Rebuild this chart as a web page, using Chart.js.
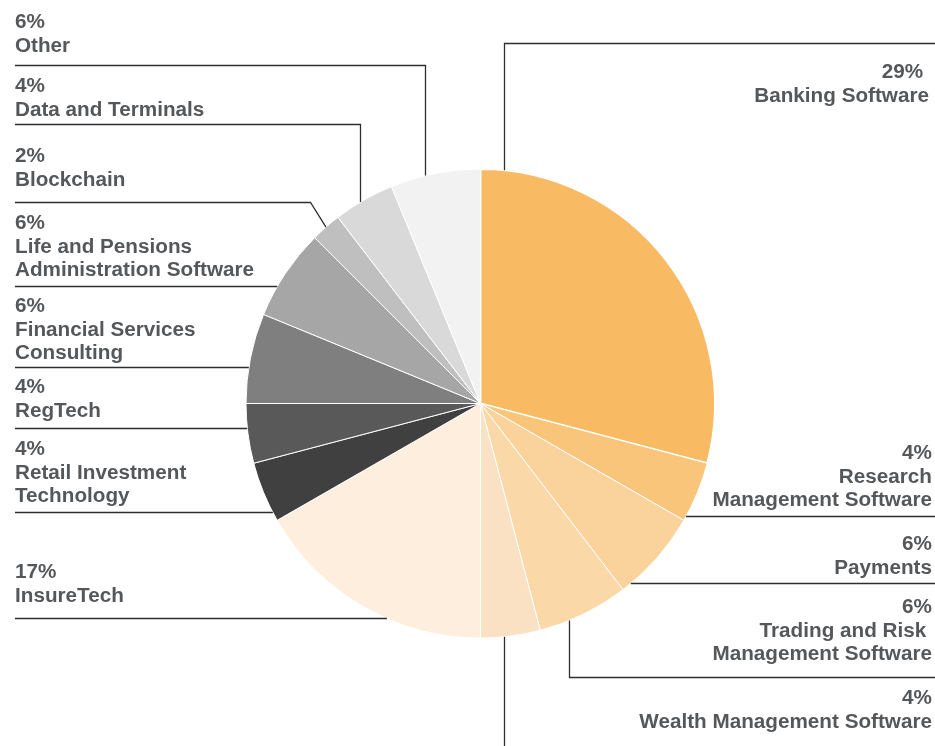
<!DOCTYPE html>
<html>
<head>
<meta charset="utf-8">
<script src="https://cdn.jsdelivr.net/npm/chart.js@4.4.1/dist/chart.umd.min.js"></script>
<style>
  html, body { margin: 0; padding: 0; background: #ffffff; }
  canvas { display: block; }
</style>
</head>
<body>
<canvas id="c" width="935" height="746"></canvas>
<script>
// ---- data ----
const categories = [
  'Banking Software', 'Research Management Software', 'Payments',
  'Trading and Risk Management Software', 'Wealth Management Software',
  'InsureTech', 'Retail Investment Technology', 'RegTech',
  'Financial Services Consulting', 'Life and Pensions Administration Software',
  'Blockchain', 'Data and Terminals', 'Other'
];
const shares = [29.1, 4.2, 6.3, 6.3, 4.1, 16.7, 4.2, 4.1, 6.2, 6.3, 2.1, 4.2, 6.2];
const percentLabels = ['29% ', '4%', '6%', '6%', '4%', '17%', '4%', '4%', '6%', '6%', '2%', '4%', '6%'];
const labelLines = [
  ['Banking Software'],
  ['Research', 'Management Software'],
  ['Payments'],
  ['Trading and Risk ', 'Management Software'],
  ['Wealth Management Software'],
  ['InsureTech'],
  ['Retail Investment', 'Technology'],
  ['RegTech'],
  ['Financial Services', 'Consulting'],
  ['Life and Pensions', 'Administration Software'],
  ['Blockchain'],
  ['Data and Terminals'],
  ['Other']
];
const sliceColors = [
  '#F8BA63', '#F9C57B', '#FAD29C', '#FAD8A8', '#FBE1C3', '#FDEEDD',
  '#404040', '#595959', '#7F7F7F', '#A6A6A6', '#BFBFBF', '#D9D9D9', '#F2F2F2'
];
const sliceBorders = [2, 1, 1, 1, 1, 1, 1, 1, 1, 1, 1, 1, 1];

// ---- label layout (text baselines / leader geometry) ----
const labelLayout = [
  { side: 'r', tx: 929, y0: 78,  lineY: 43,  leader: 'vdown', lx: 504 },
  { side: 'r', tx: 932, y0: 459, lineY: 516, leader: 'h' },
  { side: 'r', tx: 932, y0: 550, lineY: 583, leader: 'h' },
  { side: 'r', tx: 932, y0: 613, lineY: 677, leader: 'vup', lx: 569 },
  { side: 'r', tx: 932, y0: 704, lineY: null, leader: 'vfree', lx: 504 },
  { side: 'l', tx: 15, y0: 578, lineY: 618, leader: 'h' },
  { side: 'l', tx: 15, y0: 455, lineY: 512, leader: 'h' },
  { side: 'l', tx: 15, y0: 393, lineY: 428, leader: 'h' },
  { side: 'l', tx: 15, y0: 312, lineY: 367, leader: 'h' },
  { side: 'l', tx: 15, y0: 229, lineY: 286, leader: 'h' },
  { side: 'l', tx: 15, y0: 162, lineY: 202, leader: 'diag', lx: 310 },
  { side: 'l', tx: 15, y0: 92,  lineY: 124, leader: 'v', lx: 360 },
  { side: 'l', tx: 15, y0: 28,  lineY: 65,  leader: 'v', lx: 425 }
];

const W = 935, LINE_H = 23.7;
const FONT = 'bold 20.7px "Liberation Sans", Arial, sans-serif';
const TEXT_COLOR = '#55585B';
const LEADER_COLOR = '#2E2E2E';

const labelPlugin = {
  id: 'labels',
  afterDraw(chart) {
    const ctx = chart.ctx;
    const meta = chart.getDatasetMeta(0);
    ctx.save();
    ctx.font = FONT;
    ctx.textBaseline = 'alphabetic';
    ctx.strokeStyle = LEADER_COLOR;
    ctx.lineWidth = 1.3;
    ctx.lineJoin = 'miter';
    meta.data.forEach((arc, i) => {
      const L = labelLayout[i];
      const cx = arc.x, cy = arc.y, r = arc.outerRadius;
      const circY = (x, dir) => cy + dir * Math.sqrt(Math.max(r * r - (x - cx) * (x - cx), 0));
      const circX = (y, dir) => cx + dir * Math.sqrt(Math.max(r * r - (y - cy) * (y - cy), 0));
      // text
      ctx.fillStyle = TEXT_COLOR;
      ctx.textAlign = L.side === 'r' ? 'right' : 'left';
      const lines = [percentLabels[i]].concat(labelLines[i]);
      lines.forEach((t, k) => ctx.fillText(t, L.tx, L.y0 + k * LINE_H));
      // leader (pixel-aligned)
      const ly = L.lineY === null ? null : L.lineY + 0.5;
      const lx = L.lx === undefined ? null : L.lx + 0.5;
      ctx.beginPath();
      if (L.leader === 'h') {
        if (L.side === 'l') { ctx.moveTo(15, ly); ctx.lineTo(circX(ly, -1), ly); }
        else { ctx.moveTo(circX(ly, 1), ly); ctx.lineTo(W, ly); }
      } else if (L.leader === 'v') {
        ctx.moveTo(15, ly); ctx.lineTo(lx, ly); ctx.lineTo(lx, circY(lx, -1));
      } else if (L.leader === 'vdown') {
        ctx.moveTo(W, ly); ctx.lineTo(lx, ly); ctx.lineTo(lx, circY(lx, -1));
      } else if (L.leader === 'vup') {
        ctx.moveTo(W, ly); ctx.lineTo(lx, ly); ctx.lineTo(lx, circY(lx, 1));
      } else if (L.leader === 'vfree') {
        ctx.moveTo(lx, circY(lx, 1)); ctx.lineTo(lx, 746);
      } else if (L.leader === 'diag') {
        const mid = (arc.startAngle + arc.endAngle) / 2;
        ctx.moveTo(15, ly); ctx.lineTo(lx, ly);
        ctx.lineTo(cx + Math.cos(mid) * r, cy + Math.sin(mid) * r);
      }
      ctx.stroke();
    });
    ctx.restore();
  }
};

new Chart(document.getElementById('c'), {
  type: 'pie',
  data: {
    labels: categories,
    datasets: [{
      data: shares,
      backgroundColor: sliceColors,
      borderColor: '#FFFFFF',
      borderWidth: sliceBorders,
      hoverOffset: 0,
      offset: 0
    }]
  },
  options: {
    responsive: false,
    animation: false,
    layout: { padding: { left: 245, right: 219, top: 168, bottom: 107 } },
    plugins: { legend: { display: false }, tooltip: { enabled: false } }
  },
  plugins: [labelPlugin]
});
</script>
</body>
</html>
